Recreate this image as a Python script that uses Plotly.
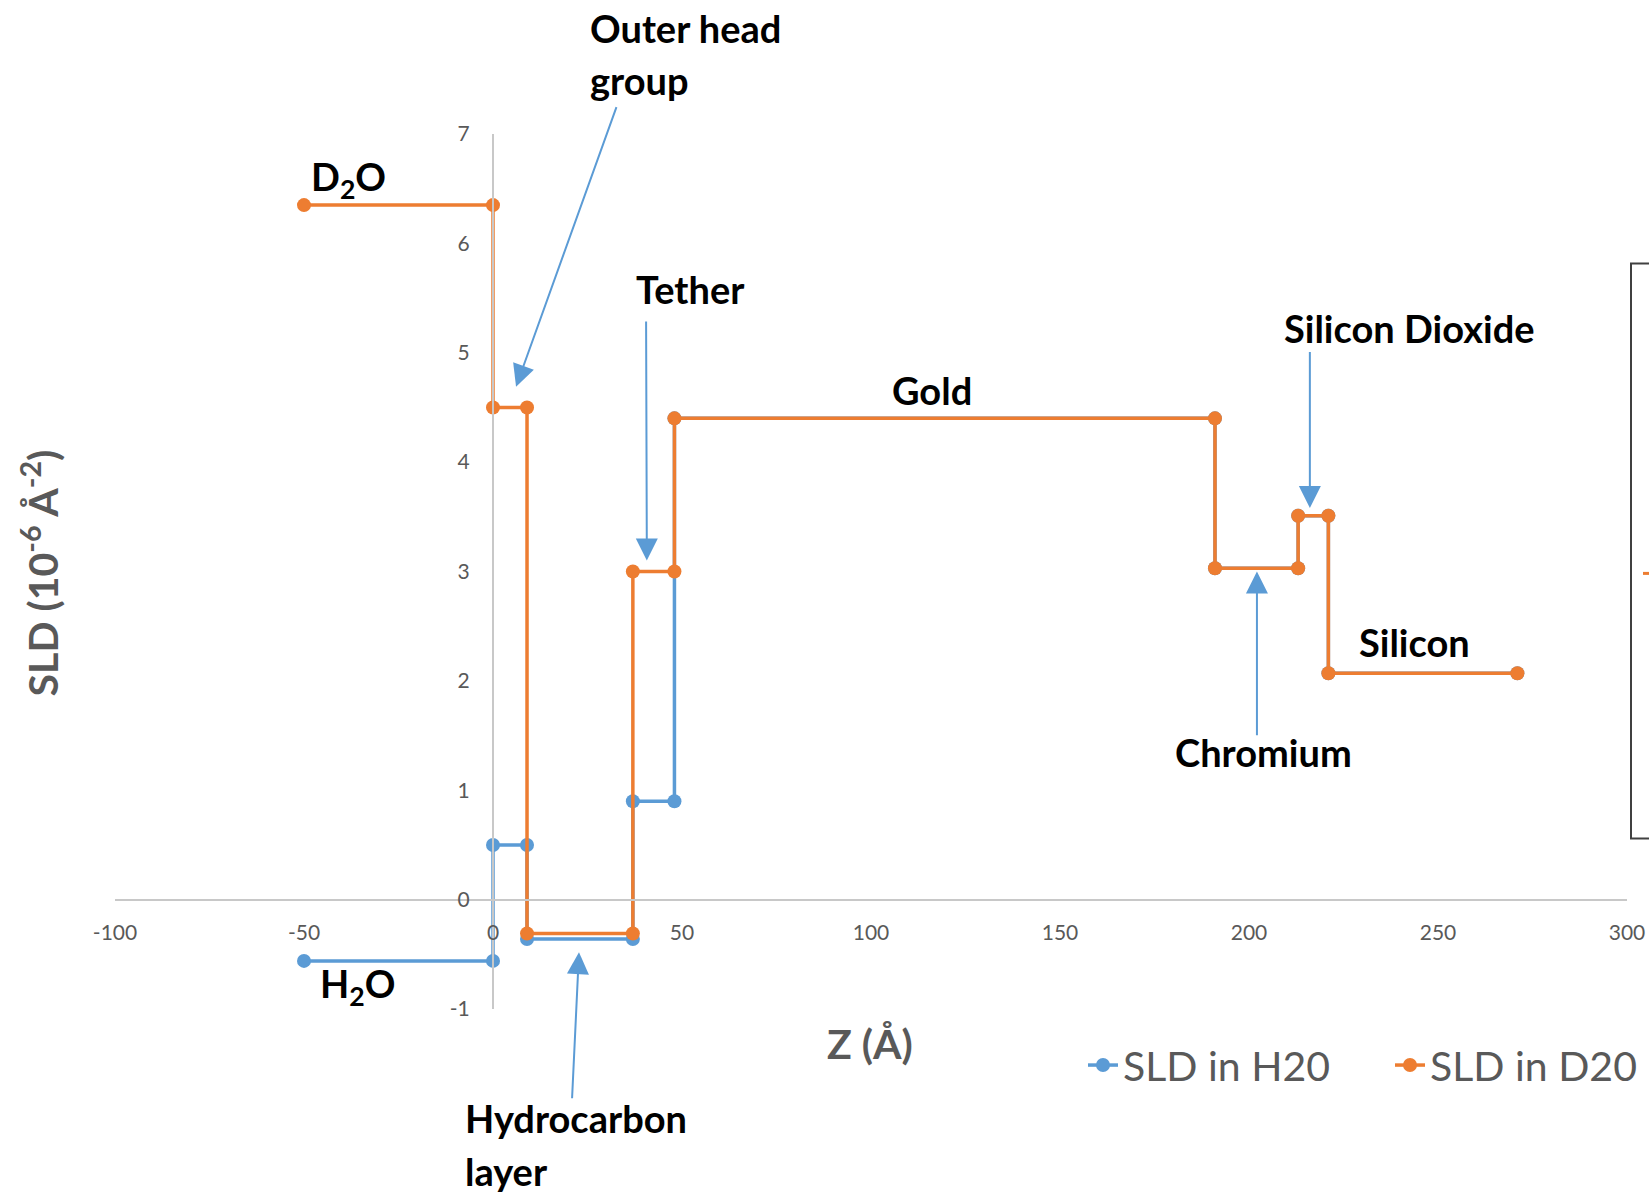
import plotly.graph_objects as go

# ---- data ----
h2o_z = [-50, 0, 0, 9, 9, 37, 37, 48, 48, 191, 191, 213, 213, 221, 221, 271]
h2o_sld = [-0.56, -0.56, 0.5, 0.5, -0.36, -0.36, 0.9, 0.9, 4.4, 4.4, 3.03, 3.03, 3.51, 3.51, 2.07, 2.07]
d2o_z = [-50, 0, 0, 9, 9, 37, 37, 48, 48, 191, 191, 213, 213, 221, 221, 271]
d2o_sld = [6.35, 6.35, 4.5, 4.5, -0.31, -0.31, 3.0, 3.0, 4.4, 4.4, 3.03, 3.03, 3.51, 3.51, 2.07, 2.07]
x_ticks = [-100, -50, 0, 50, 100, 150, 200, 250, 300]
x_ticktext = ["-100", "-50", "0", "50", "100", "150", "200", "250", "300"]
y_ticks = [-1, 0, 1, 2, 3, 4, 5, 6, 7]
y_ticktext = ["-1", "0", "1", "2", "3", "4", "5", "6", "7"]

BLUE = "#5B9BD5"
ORANGE = "#ED7D31"
GRAY = "#595959"
FONT = "Lato"

fig = go.Figure()
fig.add_trace(go.Scatter(x=h2o_z, y=h2o_sld, mode="lines+markers", name="SLD in H20",
                         line=dict(color=BLUE, width=3.5), marker=dict(color=BLUE, size=14)))
fig.add_trace(go.Scatter(x=d2o_z, y=d2o_sld, mode="lines+markers", name="SLD in D20",
                         line=dict(color=ORANGE, width=3.5), marker=dict(color=ORANGE, size=14)))

ann = []
def label(text, x, y, xanchor="left", size=38, color="black", ref="x"):
    ann.append(dict(text="<b>%s</b>" % text, x=x, y=y,
                    xref="x" if ref == "x" else "paper", yref="y" if ref == "x" else "paper",
                    showarrow=False, xanchor=xanchor, yanchor="middle",
                    font=dict(family=FONT, size=size, color=color)))

def arrow(x0, y0, x1, y1):
    ann.append(dict(text="", x=x1, y=y1, ax=x0, ay=y0, xref="x", yref="y", axref="x", ayref="y",
                    showarrow=True, arrowhead=2, arrowsize=2.2, arrowwidth=2, arrowcolor=BLUE))

# labels outside the plotting area are placed in paper coordinates
label("Outer head", 0.3128, 1.1215, ref="paper")
label("group", 0.3128, 1.0615, ref="paper")
label("Hydrocarbon", 0.230, -0.125, ref="paper")
label("layer", 0.230, -0.185, ref="paper")

label("D<sub>2</sub>O", -48.6, 6.59)
label("H<sub>2</sub>O", -46.4, -0.79)
label("Tether", 37.4, 5.58)
label("Gold", 116.1, 4.66, xanchor="center")
label("Silicon Dioxide", 208.6, 5.23)
label("Silicon", 228.6, 2.36)
label("Chromium", 180.0, 1.35)

arrow(32.8, 7.26, 6.1, 4.69)
arrow(40.5, 5.30, 40.7, 3.10)
arrow(216.1, 5.02, 216.1, 3.58)
arrow(202.1, 1.49, 202.1, 3.0)
arrow(20.9, -1.83, 22.75, -0.48)

# axis titles
ann.append(dict(text="<b>Z (Å)</b>", x=(870 - 115) / 1512, y=(1008.6 - 1043) / 875, xref="paper", yref="paper",
                showarrow=False, xanchor="center", yanchor="middle", font=dict(family=FONT, size=41, color=GRAY)))
ann.append(dict(text="<b>SLD (10<sup>-6</sup> Å<sup>-2</sup>)</b>", x=(40 - 115) / 1512, y=(1008.6 - 573) / 875,
                xref="paper", yref="paper", showarrow=False, textangle=-90, xanchor="center", yanchor="middle",
                font=dict(family=FONT, size=41, color=GRAY)))

shapes = [
    dict(type="rect", xref="paper", yref="paper", x0=(1631 - 115) / 1512, x1=1.2,
         y0=(1008.6 - 838) / 875, y1=(1008.6 - 263) / 875, line=dict(color="#404040", width=2)),
    dict(type="line", xref="paper", yref="paper", x0=(1643 - 115) / 1512, x1=1.03,
         y0=(1008.6 - 573) / 875, y1=(1008.6 - 573) / 875, line=dict(color=ORANGE, width=3)),
]

fig.update_layout(
    width=1649, height=1194,
    margin=dict(l=115, r=22, t=134, b=185, autoexpand=False),
    paper_bgcolor="white", plot_bgcolor="white",
    showlegend=True,
    legend=dict(orientation="h", x=(1083 - 115) / 1512, y=(1008.6 - 1065) / 875, xanchor="left", yanchor="middle",
                font=dict(family=FONT, size=41, color=GRAY), bgcolor="rgba(0,0,0,0)",
                entrywidth=262, entrywidthmode="pixels"),
    annotations=ann, shapes=shapes,
    xaxis=dict(range=[-100, 300], tickvals=x_ticks, ticktext=x_ticktext, showgrid=False, zeroline=False,
               showline=True, linecolor="#C8C8C8", linewidth=2, anchor="free", position=0.125, ticks="",
               ticklabelstandoff=14, tickfont=dict(family=FONT, size=21, color=GRAY)),
    yaxis=dict(range=[-1, 7], tickvals=y_ticks, ticktext=y_ticktext, showgrid=False, zeroline=False,
               showline=True, linecolor="#C8C8C8", linewidth=2, anchor="free", position=0.25, ticks="",
               ticklabelstandoff=18, tickfont=dict(family=FONT, size=21, color=GRAY)),
)

fig.write_html("out.html", config={"displayModeBar": False},
               post_script="document.body.style.margin='0';document.body.style.overflow='hidden';")
